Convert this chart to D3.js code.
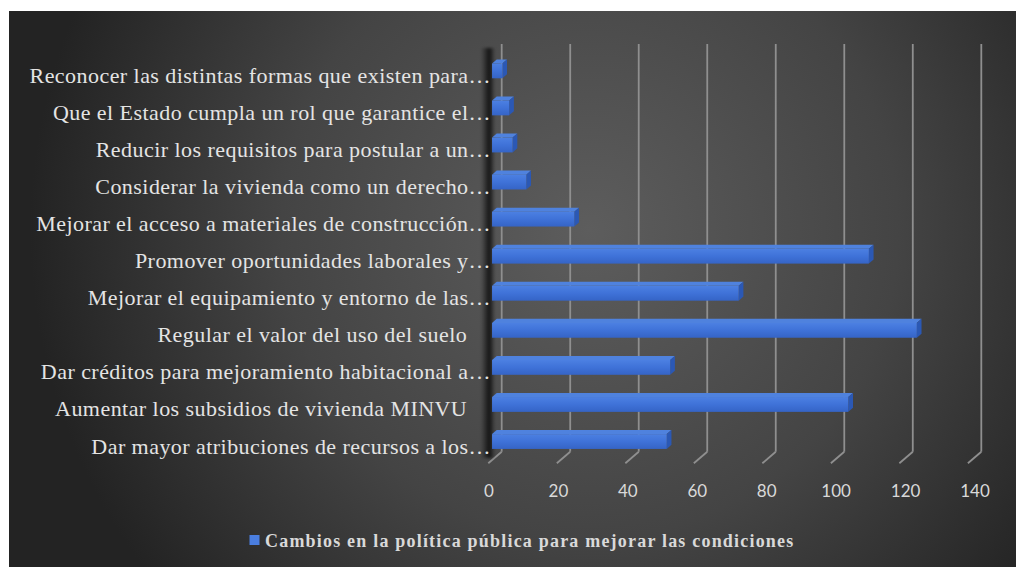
<!DOCTYPE html>
<html>
<head>
<meta charset="utf-8">
<script src="https://cdn.jsdelivr.net/npm/d3@7"></script>
<style>
  html, body { margin: 0; padding: 0; background: #ffffff; }
  svg { display: block; }
</style>
</head>
<body>
<svg id="chart" width="1016" height="567"></svg>
<script>
// Categories from top to bottom, as shown on the vertical axis
const categories = [
  "Reconocer las distintas formas que existen para…",
  "Que el Estado cumpla un rol que garantice el…",
  "Reducir los requisitos para postular a un…",
  "Considerar la vivienda como un derecho…",
  "Mejorar el acceso a materiales de construcción…",
  "Promover oportunidades laborales y…",
  "Mejorar el equipamiento y entorno de las…",
  "Regular el valor del uso del suelo\u00a0\u00a0\u00a0\u00a0",
  "Dar créditos para mejoramiento habitacional a…",
  "Aumentar los subsidios de vivienda MINVU\u00a0\u00a0\u00a0\u00a0",
  "Dar mayor atribuciones de recursos a los…"
];
const values = [3, 5, 6, 10, 24, 110, 72, 124, 52, 104, 51];
const tickValues = [0, 20, 40, 60, 80, 100, 120, 140];
const seriesName = "Cambios en la política pública para mejorar las condiciones";

const svg = d3.select("#chart");
const W = 1016, H = 567;

// ---- defs: background and bar shading
const defs = svg.append("defs");
const bg = defs.append("radialGradient").attr("id", "bg")
  .attr("gradientUnits", "userSpaceOnUse")
  .attr("cx", 590).attr("cy", 230).attr("r", 560);
bg.append("stop").attr("offset", 0).attr("stop-color", "#5d5d5d");
bg.append("stop").attr("offset", 0.55).attr("stop-color", "#444444");
bg.append("stop").attr("offset", 1).attr("stop-color", "#232323");

const front = defs.append("linearGradient").attr("id", "barFront")
  .attr("x1", 0).attr("y1", 0).attr("x2", 0).attr("y2", 1);
front.append("stop").attr("offset", 0).attr("stop-color", "#4c80e2");
front.append("stop").attr("offset", 0.5).attr("stop-color", "#3f72d8");
front.append("stop").attr("offset", 1).attr("stop-color", "#3564c6");

const shade = defs.append("linearGradient").attr("id", "wallShade")
  .attr("x1", 0).attr("y1", 0).attr("x2", 1).attr("y2", 0);
shade.append("stop").attr("offset", 0).attr("stop-color", "#000").attr("stop-opacity", 0);
shade.append("stop").attr("offset", 0.6).attr("stop-color", "#000").attr("stop-opacity", 0.75);
shade.append("stop").attr("offset", 1).attr("stop-color", "#000").attr("stop-opacity", 0);

defs.append("filter").attr("id", "soft")
  .append("feGaussianBlur").attr("stdDeviation", 1.6);

// ---- chart area background
svg.append("rect").attr("x", 9).attr("y", 11)
  .attr("width", W - 9).attr("height", H - 11)
  .attr("fill", "url(#bg)");

// ---- 3D geometry: back wall scales plus an oblique depth offset
const x = d3.scaleLinear().domain([0, 140]).range([501.7, 981.3]);
const xLabel = d3.scaleLinear().domain([0, 140]).range([489, 975]);
const y = d3.scaleBand().domain(categories).range([44, 451.7]).paddingInner(0.6).paddingOuter(0.3);
const depthDX = -13.4, depthDY = 11.6;
const P = (v, yy, d) => [x(v) + d * depthDX, yy + d * depthDY];

const wallTop = 44, wallBottom = 451.7;

// back wall gridlines and floor diagonals
const grid = svg.append("g");
tickValues.forEach(t => {
  grid.append("line")
    .attr("x1", x(t)).attr("x2", x(t))
    .attr("y1", wallTop).attr("y2", wallBottom)
    .attr("stroke", "#8f8f8f").attr("stroke-width", 1.8);
  const a = P(t, wallBottom, 0), b = P(t, wallBottom, 1);
  grid.append("line")
    .attr("x1", a[0]).attr("y1", a[1]).attr("x2", b[0]).attr("y2", b[1])
    .attr("stroke", "#8f8f8f").attr("stroke-width", 1.8);
});

// soft shadow along the side wall
svg.append("rect")
  .attr("x", 481).attr("y", 48).attr("width", 14).attr("height", 410)
  .attr("fill", "url(#wallShade)").attr("filter", "url(#soft)");

// ---- bars as oblique boxes
const dFront = 0.72, dBack = 0.37;
const bars = svg.append("g");
categories.forEach((c, i) => {
  const v = values[i];
  const top = y(c), bot = y(c) + y.bandwidth();
  const ftl = P(0, top, dFront), ftr = P(v, top, dFront);
  const fbr = P(v, bot, dFront);
  const btl = P(0, top, dBack), btr = P(v, top, dBack), bbr = P(v, bot, dBack);
  const g = bars.append("g");
  // top face
  g.append("polygon")
    .attr("points", [ftl, ftr, btr, btl].map(p => p.join(",")).join(" "))
    .attr("fill", "#4f82de");
  // end face
  g.append("polygon")
    .attr("points", [ftr, fbr, bbr, btr].map(p => p.join(",")).join(" "))
    .attr("fill", "#2b58b4");
  // front face
  g.append("rect")
    .attr("x", ftl[0]).attr("y", ftl[1])
    .attr("width", ftr[0] - ftl[0]).attr("height", bot - top)
    .attr("fill", "url(#barFront)");
});

// ---- category labels
svg.append("g").selectAll("text").data(categories).join("text")
  .attr("x", 491)
  .attr("y", d => P(0, y(d) + y.bandwidth() / 2, dFront)[1] + 12)
  .attr("text-anchor", "end")
  .attr("font-family", "'Liberation Serif', 'Times New Roman', serif")
  .attr("font-size", 22)
  .attr("letter-spacing", 0.45)
  .attr("fill", "#e4e4e4")
  .style("white-space", "pre")
  .text(d => d);

// ---- value axis labels along the front edge
svg.append("g").selectAll("text").data(tickValues).join("text")
  .attr("x", t => xLabel(t))
  .attr("y", 497)
  .attr("text-anchor", "middle")
  .attr("font-family", "Lato, 'Liberation Sans', sans-serif")
  .attr("font-size", 17)
  .attr("fill", "#d9d9d9")
  .text(d => d3.format("d")(d));

// ---- legend
const legend = svg.append("g");
legend.append("rect")
  .attr("x", 249.5).attr("y", 535).attr("width", 10).attr("height", 10)
  .attr("fill", "#4a7ee0");
legend.append("text")
  .attr("x", 265).attr("y", 547)
  .attr("font-family", "'Liberation Serif', 'Times New Roman', serif")
  .attr("font-weight", "bold")
  .attr("font-size", 18)
  .attr("letter-spacing", 1.2)
  .attr("fill", "#d9d9d9")
  .text(seriesName);
</script>
</body>
</html>
